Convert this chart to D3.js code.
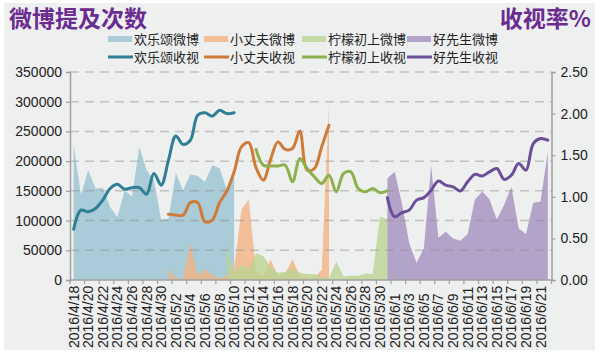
<!DOCTYPE html>
<html><head><meta charset="utf-8">
<script src="https://cdn.jsdelivr.net/npm/d3@7"></script>
<style>body{margin:0;background:#fff}svg{display:block}</style>
</head><body>
<script>
const dates = ["2016/4/18","2016/4/19","2016/4/20","2016/4/21","2016/4/22","2016/4/23","2016/4/24","2016/4/25","2016/4/26","2016/4/27","2016/4/28","2016/4/29","2016/4/30",
"2016/5/1","2016/5/2","2016/5/3","2016/5/4","2016/5/5","2016/5/6","2016/5/7","2016/5/8","2016/5/9","2016/5/10","2016/5/11","2016/5/12","2016/5/13","2016/5/14","2016/5/15","2016/5/16","2016/5/17","2016/5/18","2016/5/19","2016/5/20","2016/5/21","2016/5/22","2016/5/23","2016/5/24","2016/5/25","2016/5/26","2016/5/27","2016/5/28","2016/5/29","2016/5/30","2016/5/31",
"2016/6/1","2016/6/2","2016/6/3","2016/6/4","2016/6/5","2016/6/6","2016/6/7","2016/6/8","2016/6/9","2016/6/10","2016/6/11","2016/6/12","2016/6/13","2016/6/14","2016/6/15","2016/6/16","2016/6/17","2016/6/18","2016/6/19","2016/6/20","2016/6/21","2016/6/22"];
const N = null;
// 微博提及次数 (left axis)
const hlsWeibo = [227000,143000,185000,154000,155000,123000,106000,151000,140000,224000,185000,168000,102000,103000,180000,151000,178000,175000,165000,193000,188000,152000,185000,
N,N,N,N,N,N,N,N,N,N,N,N,N,N,N,N,N,N,N,N,N,N,N,N,N,N,N,N,N,N,N,N,N,N,N,N,N,N,N,N,N,N,N,N];
const xzfWeibo = [N,N,N,N,N,N,N,N,N,N,N,N,N,
18000,3000,3000,61000,8000,18000,8000,3000,7000,20000,118000,136000,15000,6000,35000,6000,11000,35000,8000,4000,4000,17000,295000,
N,N,N,N,N,N,N,N,N,N,N,N,N,N,N,N,N,N,N,N,N,N,N,N,N,N,N,N,N,N];
const nmcsWeibo = [N,N,N,N,N,N,N,N,N,N,N,N,N,N,N,N,N,N,N,N,N,
56000,14000,25000,18000,45000,40000,22000,12000,14000,20000,12000,10000,10000,5000,3000,31000,6000,7000,7000,11000,10000,107000,102000,
N,N,N,N,N,N,N,N,N,N,N,N,N,N,N,N,N,N,N,N,N,N];
const hxsWeibo = [N,N,N,N,N,N,N,N,N,N,N,N,N,N,N,N,N,N,N,N,N,N,N,N,N,N,N,N,N,N,N,N,N,N,N,N,N,N,N,N,N,N,N,
171000,182000,129000,62000,29000,53000,193000,71000,81000,70000,66000,77000,135000,149000,136000,102000,126000,157000,87000,77000,130000,132000,216000];
// 收视率% (right axis)
const hlsRating = [0.61,0.84,0.82,0.86,0.96,1.10,1.15,1.09,1.11,1.11,1.03,1.28,1.14,1.44,1.73,1.63,1.68,1.98,2.01,1.97,2.04,2.00,2.01,
N,N,N,N,N,N,N,N,N,N,N,N,N,N,N,N,N,N,N,N,N,N,N,N,N,N,N,N,N,N,N,N,N,N,N,N,N,N,N,N,N,N,N,N];
const xzfRating = [N,N,N,N,N,N,N,N,N,N,N,N,N,
0.79,0.78,0.78,0.93,0.93,0.70,0.72,0.93,1.07,1.30,1.60,1.65,1.35,1.20,1.45,1.66,1.57,1.58,1.79,1.32,1.34,1.60,1.86,
N,N,N,N,N,N,N,N,N,N,N,N,N,N,N,N,N,N,N,N,N,N,N,N,N,N,N,N,N,N];
const nmcsRating = [N,N,N,N,N,N,N,N,N,N,N,N,N,N,N,N,N,N,N,N,N,N,N,N,N,
1.57,1.38,1.37,1.37,1.38,1.18,1.46,1.34,1.24,1.16,1.26,1.06,1.28,1.30,1.10,1.06,1.10,1.05,1.07,
N,N,N,N,N,N,N,N,N,N,N,N,N,N,N,N,N,N,N,N,N,N];
const hxsRating = [N,N,N,N,N,N,N,N,N,N,N,N,N,N,N,N,N,N,N,N,N,N,N,N,N,N,N,N,N,N,N,N,N,N,N,N,N,N,N,N,N,N,N,
0.99,0.76,0.81,0.84,0.96,0.99,1.08,1.19,1.14,1.12,1.07,1.18,1.27,1.25,1.30,1.34,1.21,1.26,1.40,1.32,1.64,1.70,1.68];

const leftTicks = [0,50000,100000,150000,200000,250000,300000,350000];
const rightTicks = [0,0.5,1.0,1.5,2.0,2.5];
const seriesNames = ["欢乐颂微博","小丈夫微博","柠檬初上微博","好先生微博"];
const lineNames = ["欢乐颂收视","小丈夫收视","柠檬初上收视","好先生收视"];
const leftTitle = "微博提及次数";
const rightTitle = "收视率%";

const areaColors = ["#98c2d2","#f2b382","#bcd494","#a490bf"];
const lineColors = ["#2e7f96","#d07a38","#8cb04c","#6a4e98"];

const W = 600, H = 357;
const svg = d3.select("body").append("svg").attr("width", W).attr("height", H);
svg.append("rect").attr("x",4).attr("y",3).attr("width",591).attr("height",347).attr("fill","#eeefef");

const x = d3.scaleBand().domain(dates).range([70, 551.5]).padding(0);
const xc = d => x(d) + x.bandwidth()/2;
const yL = d3.scaleLinear().domain([0,350000]).range([280,72]);
const yR = d3.scaleLinear().domain([0,2.5]).range([280,72]);
const font = "'Liberation Sans', Arial, sans-serif";
const cjk = "'Noto Sans CJK SC', sans-serif";

// areas
const areaGen = d3.area().defined(d => d.v != null).x(d => xc(d.k)).y0(yL(0)).y1(d => yL(d.v));
[hlsWeibo, xzfWeibo, nmcsWeibo, hxsWeibo].forEach((arr, i) => {
  svg.append("path").datum(dates.map((k, j) => ({k, v: arr[j]})))
    .attr("d", areaGen).attr("fill", areaColors[i]).attr("fill-opacity", 0.8);
});

// gridlines
svg.append("g").selectAll("line").data(leftTicks.filter(t => t > 0)).join("line")
  .attr("x1", 70).attr("x2", 551.5).attr("y1", d => yL(d)).attr("y2", d => yL(d))
  .attr("stroke", "rgba(140,140,140,0.45)").attr("stroke-width", 1.5).attr("stroke-dasharray", "9,6");

// left axis
const gL = svg.append("g").attr("transform", "translate(70,0)")
  .call(d3.axisLeft(yL).tickValues(leftTicks).tickSize(4).tickPadding(4).tickFormat(d3.format("d")));
gL.select(".domain").attr("stroke", "#a0a0a0").attr("stroke-width", 1.5);
gL.selectAll(".tick line").attr("stroke", "#a0a0a0").attr("stroke-width", 1.2);
gL.selectAll("text").attr("font-family", font).attr("font-size", 14).attr("fill", "#222");

// right axis
const gR = svg.append("g").attr("transform", "translate(551.5,0)")
  .call(d3.axisRight(yR).tickValues(rightTicks).tickSize(4).tickPadding(5).tickFormat(d3.format(".2f")));
gR.select(".domain").attr("stroke", "#a0a0a0").attr("stroke-width", 1.5);
gR.selectAll(".tick line").attr("stroke", "#a0a0a0").attr("stroke-width", 1.2);
gR.selectAll("text").attr("font-family", font).attr("font-size", 14).attr("fill", "#222");

// x axis
const gX = svg.append("g").attr("transform", "translate(0,280)");
gX.append("line").attr("x1", 70).attr("x2", 551.5).attr("stroke", "#a0a0a0").attr("stroke-width", 1.5);
const tickDates = dates.filter((d, i) => i % 2 === 0);
gX.selectAll(".xt").data(tickDates.concat([null])).join("line")
  .attr("x1", d => d ? x(d) : 551.5).attr("x2", d => d ? x(d) : 551.5)
  .attr("y1", 0).attr("y2", 4).attr("stroke", "#a0a0a0").attr("stroke-width", 1.2);
gX.selectAll(".xl").data(tickDates).join("text")
  .attr("transform", d => `translate(${xc(d) + 5},68) rotate(-90)`)
  .attr("text-anchor", "start").attr("font-family", font).attr("font-size", 14).attr("fill", "#222")
  .text(d => d);

// lines
const lineGen = d3.line().defined(d => d.v != null).x(d => xc(d.k)).y(d => yR(d.v)).curve(d3.curveCatmullRom);
[hlsRating, xzfRating, nmcsRating, hxsRating].forEach((arr, i) => {
  svg.append("path").datum(dates.map((k, j) => ({k, v: arr[j]})))
    .attr("d", lineGen).attr("fill", "none").attr("stroke", lineColors[i])
    .attr("stroke-width", 3).attr("stroke-linecap", "round").attr("stroke-linejoin", "round");
});

// titles
svg.append("text").attr("x", 9).attr("y", 27).attr("font-family", cjk).attr("font-weight", "bold")
  .attr("font-size", 23).attr("fill", "#6b2c91").text(leftTitle);
svg.append("text").attr("x", 591).attr("y", 27).attr("text-anchor", "end").attr("font-family", cjk).attr("font-weight", "bold")
  .attr("font-size", 23).attr("fill", "#6b2c91").text(rightTitle);

// legend
const legX = [108, 204, 302, 407];
seriesNames.forEach((n, i) => {
  svg.append("rect").attr("x", legX[i]).attr("y", 36).attr("width", 24).attr("height", 6)
    .attr("fill", areaColors[i]).attr("fill-opacity", 0.8);
  svg.append("text").attr("x", legX[i] + 26).attr("y", 44).attr("font-family", cjk)
    .attr("font-size", 13).attr("fill", "#222").text(n);
});
lineNames.forEach((n, i) => {
  svg.append("line").attr("x1", legX[i]).attr("x2", legX[i] + 25).attr("y1", 57).attr("y2", 57)
    .attr("stroke", lineColors[i]).attr("stroke-width", 3);
  svg.append("text").attr("x", legX[i] + 26).attr("y", 62).attr("font-family", cjk)
    .attr("font-size", 13).attr("fill", "#222").text(n);
});
</script>
</body></html>
